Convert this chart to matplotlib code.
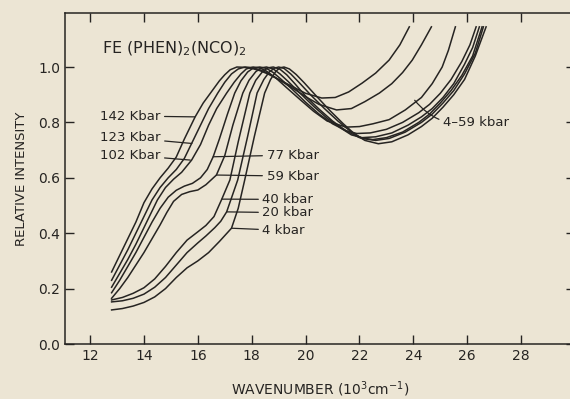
import matplotlib
matplotlib.use("Agg")
import matplotlib.pyplot as plt

# wavenumber (10^3 cm^-1) and relative intensity for each pressure
x_142 = [12.8, 13.1, 13.4, 13.7, 14.0, 14.3, 14.6, 14.9, 15.2, 15.5, 15.9, 16.2, 16.5, 16.8, 17.0, 17.2,
         17.45, 17.7, 18.0, 18.3, 18.6, 19.0, 19.5, 20.0, 20.6, 21.1, 21.6, 22.1, 22.6, 23.1, 23.5, 23.85]
y_142 = [0.26, 0.32, 0.38, 0.44, 0.51, 0.56, 0.60, 0.635, 0.675, 0.74, 0.82, 0.87, 0.91, 0.95, 0.972, 0.99,
         1.0, 0.999, 0.995, 0.987, 0.975, 0.955, 0.93, 0.905, 0.888, 0.89, 0.91, 0.942, 0.978, 1.025, 1.08, 1.145]

x_123 = [12.8, 13.1, 13.4, 13.7, 14.0, 14.3, 14.6, 14.9, 15.2, 15.5, 15.77, 16.1, 16.4, 16.74, 17.0, 17.25,
         17.5, 17.75, 18.0, 18.3, 18.6, 19.0, 19.5, 20.0, 20.5, 21.15, 21.7, 22.2, 22.74, 23.2, 23.6, 23.96,
         24.3, 24.67]
y_123 = [0.23, 0.285, 0.34, 0.40, 0.46, 0.52, 0.565, 0.60, 0.63, 0.67, 0.724, 0.79, 0.85, 0.906, 0.945, 0.975,
         0.993, 1.0, 0.998, 0.99, 0.978, 0.955, 0.925, 0.893, 0.865, 0.845, 0.85, 0.875, 0.906, 0.94, 0.98, 1.025,
         1.08, 1.145]

x_102 = [12.8, 13.1, 13.4, 13.7, 14.0, 14.3, 14.5, 14.8, 15.1, 15.4, 15.77, 16.1, 16.4, 16.7, 17.07, 17.35,
         17.6, 17.8, 18.05, 18.3, 18.55, 18.9, 19.3, 19.8, 20.3, 20.8, 21.5, 22.0, 22.5, 23.1, 23.7, 24.3,
         24.7, 25.07, 25.3, 25.56]
y_102 = [0.205, 0.255, 0.305, 0.36, 0.42, 0.48, 0.52, 0.565, 0.595, 0.62, 0.664, 0.72, 0.79, 0.85, 0.906, 0.945,
         0.975, 0.993, 1.0, 0.997, 0.985, 0.96, 0.925, 0.882, 0.84, 0.805, 0.783, 0.785, 0.795, 0.81, 0.845, 0.89,
         0.94, 1.0, 1.06, 1.145]

x_77 = [12.8, 13.1, 13.4, 13.7, 14.0, 14.3, 14.6, 14.9, 15.2, 15.5, 15.8, 16.1, 16.35, 16.57, 16.8, 17.1,
        17.37, 17.6, 17.85, 18.05, 18.3, 18.55, 18.8, 19.1, 19.5, 20.0, 20.5, 21.0, 21.5, 21.9, 22.4, 23.0,
        23.6, 24.2, 24.6, 25.0, 25.4, 25.8, 26.1, 26.33]
y_77 = [0.185, 0.23, 0.28, 0.33, 0.385, 0.44, 0.49, 0.53, 0.555, 0.57, 0.58, 0.60, 0.63, 0.676, 0.74, 0.83,
        0.906, 0.95, 0.982, 0.996, 1.0, 0.995, 0.98, 0.955, 0.92, 0.873, 0.83, 0.795, 0.77, 0.76, 0.762, 0.775,
        0.80, 0.835, 0.865, 0.905, 0.955, 1.02, 1.08, 1.145]

x_59 = [12.8, 13.1, 13.4, 13.7, 14.0, 14.3, 14.6, 14.85, 15.1, 15.4, 15.7, 16.0, 16.3, 16.69, 17.0, 17.3,
        17.67, 17.9, 18.15, 18.35, 18.55, 18.8, 19.05, 19.35, 19.8, 20.3, 20.8, 21.3, 21.7, 22.1, 22.6, 23.2,
        23.8, 24.3, 24.7, 25.1, 25.5, 25.9, 26.2, 26.45]
y_59 = [0.165, 0.20, 0.24, 0.285, 0.33, 0.38, 0.43, 0.475, 0.515, 0.54, 0.55, 0.556, 0.575, 0.61, 0.68, 0.79,
        0.906, 0.952, 0.983, 0.997, 1.0, 0.993, 0.975, 0.948, 0.905, 0.858, 0.815, 0.78, 0.755, 0.745, 0.748,
        0.762, 0.79, 0.82, 0.85, 0.89, 0.94, 1.01, 1.07, 1.145]

x_40 = [12.8, 13.2, 13.6, 14.0, 14.4, 14.8, 15.2, 15.6, 16.0, 16.3, 16.6, 16.89, 17.19, 17.5, 17.93, 18.15,
        18.4, 18.6, 18.8, 19.05, 19.3, 19.6, 20.0, 20.5, 21.0, 21.5, 22.0, 22.5, 23.0, 23.6, 24.2, 24.6,
        25.0, 25.4, 25.8, 26.2, 26.55]
y_40 = [0.159, 0.168, 0.183, 0.203, 0.235, 0.28, 0.33, 0.375, 0.405, 0.428, 0.46, 0.523, 0.592, 0.73, 0.906, 0.952,
        0.983, 0.997, 1.0, 0.992, 0.972, 0.94, 0.895, 0.848, 0.805, 0.77, 0.745, 0.738, 0.745, 0.765, 0.8, 0.83,
        0.87, 0.915, 0.97, 1.04, 1.145]

x_20 = [12.8, 13.2, 13.6, 14.0, 14.4, 14.8, 15.2, 15.6, 16.0, 16.3, 16.63, 16.85, 17.07, 17.48, 17.85, 18.2,
        18.45, 18.65, 18.85, 19.0, 19.2, 19.45, 19.75, 20.2, 20.7, 21.2, 21.7, 22.1, 22.6, 23.1, 23.7, 24.3,
        24.7, 25.1, 25.5, 25.9, 26.3, 26.6]
y_20 = [0.152, 0.156, 0.165, 0.18, 0.205, 0.24, 0.285, 0.33, 0.365, 0.39, 0.42, 0.443, 0.477, 0.592, 0.75, 0.906,
        0.955, 0.982, 0.996, 1.0, 0.995, 0.975, 0.945, 0.898, 0.85, 0.805, 0.765, 0.742, 0.735, 0.742, 0.765, 0.8,
        0.83, 0.87, 0.915, 0.975, 1.05, 1.145]

x_4 = [12.8, 13.2, 13.6, 14.0, 14.4, 14.8, 15.2, 15.6, 16.0, 16.4, 16.8, 17.25, 17.5, 17.74, 18.1, 18.48,
       18.7, 18.9, 19.05, 19.2, 19.4, 19.65, 19.95, 20.4, 20.9, 21.4, 21.8, 22.2, 22.7, 23.2, 23.8, 24.3,
       24.7, 25.1, 25.5, 25.9, 26.3, 26.7]
y_4 = [0.123, 0.128, 0.137, 0.15, 0.17, 0.2, 0.24, 0.275, 0.30, 0.33, 0.37, 0.418, 0.49, 0.592, 0.75, 0.906,
       0.955, 0.985, 0.997, 1.0, 0.993, 0.973, 0.943, 0.895, 0.843, 0.795, 0.76, 0.735, 0.723, 0.73, 0.755, 0.785,
       0.815, 0.855, 0.9, 0.955, 1.04, 1.145]

curves = [(x_142, y_142), (x_123, y_123), (x_102, y_102), (x_77, y_77),
          (x_59, y_59), (x_40, y_40), (x_20, y_20), (x_4, y_4)]

# labels: text, text position, leader tip on the curve
left_labels = ["142 Kbar", "123 Kbar", "102 Kbar"]
left_text = [(12.37, 0.823), (12.37, 0.744), (12.37, 0.682)]
left_tips = [(15.89, 0.82), (15.78, 0.724), (15.72, 0.664)]

right_labels = ["77 Kbar", "59 Kbar", "40 kbar", "20 kbar", "4 kbar"]
right_text = [(18.55, 0.682), (18.55, 0.606), (18.4, 0.522), (18.4, 0.474), (18.4, 0.41)]
right_tips = [(16.57, 0.676), (16.69, 0.61), (16.89, 0.523), (17.07, 0.477), (17.25, 0.418)]

paper = "#ece5d4"
ink = "#262422"

fig = plt.figure(figsize=(5.7, 3.99), dpi=100, facecolor=paper)
ax = fig.add_axes([65 / 570, 55 / 399, 510 / 570, 331 / 399], facecolor=paper)

for xs, ys in curves:
    ax.plot(xs, ys, color=ink, lw=1.1, solid_joinstyle="round")

for lab, (tx, ty), (px, py) in zip(left_labels, left_text, left_tips):
    ax.annotate(lab, xy=(px, py), xytext=(tx, ty), fontsize=9.5, color=ink, va="center", ha="left",
                arrowprops=dict(arrowstyle="-", color=ink, lw=0.9, shrinkA=1, shrinkB=0))

for lab, (tx, ty), (px, py) in zip(right_labels, right_text, right_tips):
    ax.annotate(lab, xy=(px, py), xytext=(tx, ty), fontsize=9.5, color=ink, va="center", ha="left",
                arrowprops=dict(arrowstyle="-", color=ink, lw=0.9, shrinkA=1, shrinkB=0))

ax.annotate("4\u201359 kbar", xy=(24.05, 0.88), xytext=(25.1, 0.80), fontsize=9.5, color=ink,
            va="center", ha="left",
            arrowprops=dict(arrowstyle="-", color=ink, lw=0.9, shrinkA=1, shrinkB=0,
                            connectionstyle="arc3,rad=-0.3"))

ax.text(12.44, 1.065, r"FE (PHEN)$_2$(NCO)$_2$", fontsize=11.5, color=ink, va="center", ha="left")

ax.set_xlim(11.07, 30)
ax.set_ylim(0, 1.195)
ax.set_xticks([12, 14, 16, 18, 20, 22, 24, 26, 28])
ax.set_yticks([0.0, 0.2, 0.4, 0.6, 0.8, 1.0])
ax.set_yticklabels(["0.0", "0.2", "0.4", "0.6", "0.8", "1.0"])
ax.tick_params(direction="in", length=6.5, width=1.0, colors=ink, labelsize=10,
               top=True, right=True)
for s in ax.spines.values():
    s.set_color(ink)
    s.set_linewidth(1.1)

ax.set_xlabel(r"WAVENUMBER (10$^3$cm$^{-1}$)", fontsize=10, color=ink, labelpad=12)
ax.set_ylabel("RELATIVE INTENSITY", fontsize=9.5, color=ink, labelpad=7)

fig.savefig("out.png", dpi=100, facecolor=paper)
